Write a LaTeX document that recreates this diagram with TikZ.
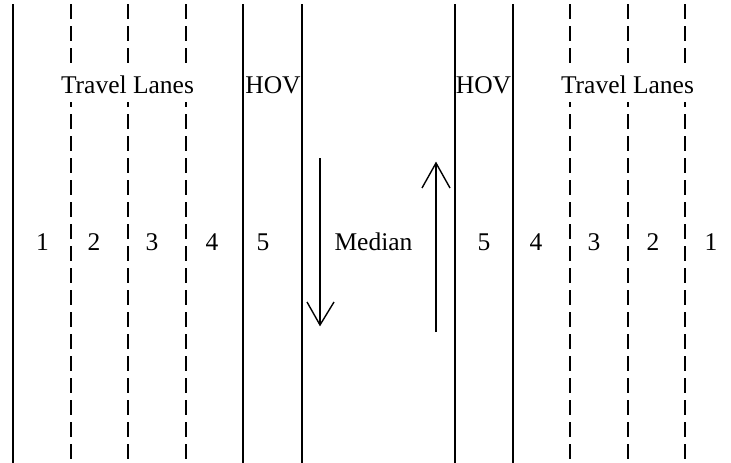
\documentclass[tikz,border=0pt]{standalone}
\usepackage{fontspec}
\setmainfont{Liberation Serif}
\begin{document}
\begin{tikzpicture}[x=1pt,y=-1pt,
  solidlane/.style={line width=2pt,line cap=butt},
  dashlane/.style={line width=2pt,line cap=butt,dash pattern=on 15pt off 7pt},
  lbl/.style={font=\fontsize{25.5}{30}\selectfont,inner sep=0pt,anchor=center},
  coverlbl/.style={lbl,fill=white,inner xsep=4pt,minimum height=33pt},
  dirarrow/.style={line width=1.4pt,line join=miter}]
\useasboundingbox (0,0) rectangle (731,463);
% dashed lane lines
\foreach \x in {71,128,186,570,628,685}{
  \draw[dashlane] (\x,4) -- (\x,463);
}
% travel lanes labels (cover dashed lines)
\node[coverlbl] (tl1) at (127.5,85) {Travel Lanes};
\node[coverlbl] (tl2) at (627.5,85) {Travel Lanes};
% solid lane lines
\foreach \x in {13,243,302,455,513}{
  \draw[solidlane] (\x,4) -- (\x,463);
}
% HOV labels
\node[lbl] (hov1) at (273,85) {HOV};
\node[lbl] (hov2) at (483.5,85) {HOV};
% lane numbers
\node[lbl] (l1) at (42.5,242) {1};
\node[lbl] (l2) at (94,242) {2};
\node[lbl] (l3) at (152,242) {3};
\node[lbl] (l4) at (212,242) {4};
\node[lbl] (l5) at (263,242) {5};
\node[lbl] (r5) at (484,242) {5};
\node[lbl] (r4) at (536,242) {4};
\node[lbl] (r3) at (594,242) {3};
\node[lbl] (r2) at (653,242) {2};
\node[lbl] (r1) at (711,242) {1};
\node[lbl] (median) at (373.5,242) {Median};
% direction arrows
\coordinate (dtop) at (320,158);
\coordinate (dtip) at (320,325);
\coordinate (dwl) at (307,302);
\coordinate (dwr) at (334,302);
\draw[dirarrow] (dtop) -- (dtip);
\draw[dirarrow] (dwl) -- (dtip) -- (dwr);
\coordinate (ubot) at (436,332);
\coordinate (utip) at (436,163);
\coordinate (uwl) at (422,188);
\coordinate (uwr) at (450,188);
\draw[dirarrow] (ubot) -- (utip);
\draw[dirarrow] (uwl) -- (utip) -- (uwr);
\end{tikzpicture}
\end{document}
